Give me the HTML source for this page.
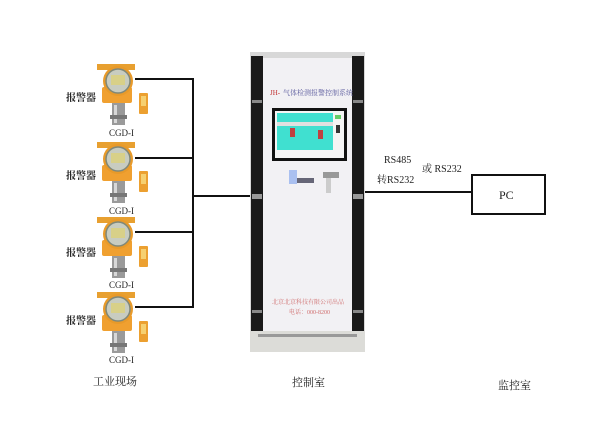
<!DOCTYPE html>
<html><head><meta charset="utf-8"><style>
html,body{margin:0;padding:0;background:#fff;}
svg{display:block;}
text{font-family:"Liberation Serif","Noto Serif CJK SC","Noto Sans CJK SC",serif;}
</style></head><body>
<svg width="611" height="440" viewBox="0 0 611 440" xmlns="http://www.w3.org/2000/svg">
<defs>
<g id="det">
  <rect x="-21" y="-17" width="38" height="6" fill="#e8a030"/>
  <rect x="-16" y="6" width="30" height="16" rx="2" fill="#f0a030"/>
  <circle cx="0" cy="0" r="15" fill="#e89a2a"/>
  <circle cx="0" cy="0" r="12" fill="#c8ccc0" stroke="#808878" stroke-width="1.5"/>
  <rect x="-7" y="-6" width="14" height="10" fill="#d8d088"/>
  <rect x="-6" y="22" width="13" height="22" fill="#9a9a9a"/>
  <rect x="-4" y="24" width="3" height="18" fill="#d8d8d8"/>
  <rect x="-8" y="34" width="17" height="4" fill="#777"/>
  <rect x="21" y="12" width="9" height="21" rx="1" fill="#eca030"/>
  <rect x="23" y="15" width="5" height="10" fill="#f6d070"/>
</g>
</defs>

<!-- wiring -->
<g stroke="#111" stroke-width="2" fill="none">
  <line x1="135" y1="79" x2="194" y2="79"/>
  <line x1="135" y1="158" x2="194" y2="158"/>
  <line x1="135" y1="232" x2="194" y2="232"/>
  <line x1="135" y1="307" x2="194" y2="307"/>
  <line x1="193" y1="78" x2="193" y2="308"/>
  <line x1="193" y1="196" x2="252" y2="196"/>
  <line x1="364" y1="192" x2="472" y2="192"/>
</g>

<!-- detectors -->
<use href="#det" x="118" y="81"/>
<use href="#det" x="118" y="159"/>
<use href="#det" x="118" y="234"/>
<use href="#det" x="118" y="309"/>

<g font-size="10" fill="#222" font-weight="bold">
  <text x="66" y="101">报警器</text>
  <text x="66" y="179">报警器</text>
  <text x="66" y="256">报警器</text>
  <text x="66" y="324">报警器</text>
</g>
<g font-size="9" fill="#222">
  <text x="109" y="136">CGD-I</text>
  <text x="109" y="214">CGD-I</text>
  <text x="109" y="288">CGD-I</text>
  <text x="109" y="363">CGD-I</text>
</g>

<!-- cabinet -->
<rect x="250" y="52" width="115" height="300" fill="#d8d8d8"/>
<rect x="251" y="56" width="12" height="276" fill="#1a1a1a"/>
<rect x="352" y="56" width="12" height="276" fill="#1a1a1a"/>
<rect x="252" y="194" width="10" height="5" fill="#999"/>
<rect x="353" y="194" width="10" height="5" fill="#999"/>
<rect x="252" y="100" width="10" height="3" fill="#888"/>
<rect x="353" y="100" width="10" height="3" fill="#888"/>
<rect x="252" y="310" width="10" height="3" fill="#888"/>
<rect x="353" y="310" width="10" height="3" fill="#888"/>
<rect x="263" y="58" width="89" height="273" fill="#f2f1f4"/>
<rect x="250" y="331" width="115" height="21" fill="#dcdcd8"/>
<rect x="258" y="334" width="99" height="3" fill="#999"/>
<text x="270" y="95" font-size="7" fill="#c03030">JH-</text>
<text x="283" y="95" font-size="7" fill="#6060a0" font-family="Noto Sans CJK SC,sans-serif">气体检测报警控制系统</text>
<rect x="272" y="108" width="75" height="53" fill="#111"/>
<rect x="275" y="111" width="69" height="47" fill="#f4f4f4"/>
<rect x="277" y="113" width="56" height="37" fill="#40e0d0"/>
<rect x="277" y="122" width="56" height="4" fill="#e0e0e0"/>
<rect x="290" y="128" width="5" height="9" fill="#c04040"/>
<rect x="318" y="130" width="5" height="9" fill="#c04040"/>
<rect x="335" y="115" width="6" height="4" fill="#6c6"/>
<rect x="336" y="125" width="4" height="8" fill="#333"/>
<rect x="289" y="170" width="8" height="14" fill="#aac0f0"/>
<rect x="297" y="178" width="17" height="5" fill="#667"/>
<rect x="323" y="172" width="16" height="6" fill="#999"/>
<rect x="326" y="178" width="5" height="15" fill="#ccc"/>
<text x="272" y="304" font-size="6" fill="#d07070" font-family="Noto Sans CJK SC,sans-serif">北京北京科技有限公司出品</text>
<text x="289" y="314" font-size="6" fill="#d07070" font-family="Noto Sans CJK SC,sans-serif">电话：000-8200</text>

<!-- comm labels -->
<g font-size="10" fill="#222">
  <text x="384" y="163">RS485</text>
  <text x="377" y="183">转RS232</text>
  <text x="422" y="172">或 RS232</text>
</g>

<!-- PC -->
<rect x="472" y="175" width="73" height="39" fill="#fff" stroke="#111" stroke-width="2"/>
<text x="499" y="199" font-size="12" fill="#222">PC</text>

<!-- section labels -->
<g font-size="11" fill="#222">
  <text x="93" y="385">工业现场</text>
  <text x="292" y="386">控制室</text>
  <text x="498" y="389">监控室</text>
</g>
</svg>
</body></html>
